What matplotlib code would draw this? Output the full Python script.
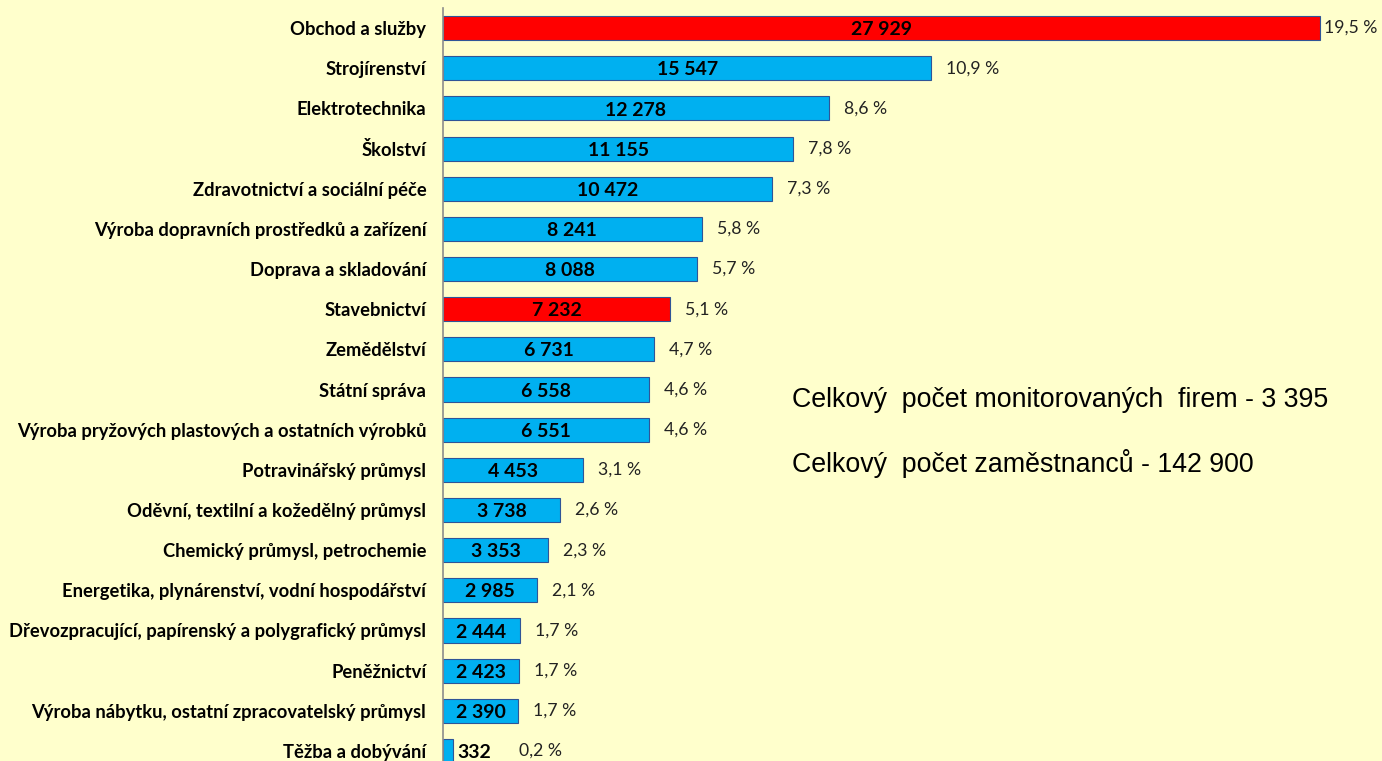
import matplotlib
matplotlib.use("Agg")
import matplotlib.pyplot as plt

categories = [
    "Obchod a služby",
    "Strojírenství",
    "Elektrotechnika",
    "Školství",
    "Zdravotnictví a sociální péče",
    "Výroba dopravních prostředků a zařízení",
    "Doprava a skladování",
    "Stavebnictví",
    "Zemědělství",
    "Státní správa",
    "Výroba pryžových plastových a ostatních výrobků",
    "Potravinářský průmysl",
    "Oděvní, textilní a kožedělný průmysl",
    "Chemický průmysl, petrochemie",
    "Energetika, plynárenství, vodní hospodářství",
    "Dřevozpracující, papírenský a polygrafický průmysl",
    "Peněžnictví",
    "Výroba nábytku, ostatní zpracovatelský průmysl",
    "Těžba a dobývání",
]
employees = [27929, 15547, 12278, 11155, 10472, 8241, 8088, 7232, 6731, 6558,
             6551, 4453, 3738, 3353, 2985, 2444, 2423, 2390, 332]
shares = [19.5, 10.9, 8.6, 7.8, 7.3, 5.8, 5.7, 5.1, 4.7, 4.6,
          4.6, 3.1, 2.6, 2.3, 2.1, 1.7, 1.7, 1.7, 0.2]
highlighted = ["Obchod a služby", "Stavebnictví"]
summary_lines = [
    "Celkový  počet monitorovaných  firem - 3 395",
    "Celkový  počet zaměstnanců - 142 900",
]

BG = "#FFFFCC"
W, H = 1382, 761
fig = plt.figure(figsize=(W / 100, H / 100), dpi=100, facecolor=BG)

ax_left = 443 / W
ax_bottom = 0.0
ax_top = 1 - 8 / H
ax = fig.add_axes([ax_left, ax_bottom, 1 - ax_left, ax_top - ax_bottom])
ax.set_facecolor(BG)

px_per_unit = (1320 - 443) / 27929
ax.set_xlim(0, (W - 443) / px_per_unit)
ax.set_ylim(18.25, -0.5)

ypos = list(range(len(categories)))
colors = ["#FF0000" if c in highlighted else "#00B0F0" for c in categories]
ax.barh(ypos, employees, height=0.6, color=colors, edgecolor="#2F5597",
        linewidth=0.8, zorder=2)

for sp in ["top", "right", "bottom"]:
    ax.spines[sp].set_visible(False)
ax.spines["left"].set_color("#8C8C8C")
ax.spines["left"].set_linewidth(1.2)
ax.set_xticks([])
ax.set_yticks(ypos)
ax.set_yticklabels(categories, fontsize=13.2, fontweight="bold", family="Lato")
ax.tick_params(axis="y", length=0, pad=12)

def fmt(v):
    return f"{v:,}".replace(",", " ")

for i, (v, s) in enumerate(zip(employees, shares)):
    if v > 2000:
        ax.text(v / 2, i + 0.04, fmt(v), ha="center", va="center",
                fontsize=14, fontweight="bold", family="Lato", color="black", zorder=3)
        off = 4 if i == 0 else 15
    else:
        ax.annotate(fmt(v), (v, i + 0.04), xytext=(4, 0), textcoords="offset pixels",
                    ha="left", va="center", fontsize=14, fontweight="bold",
                    family="Lato", color="black", zorder=3)
        off = 66
    ax.annotate(f"{s:.1f} %".replace(".", ","), (v, i), xytext=(off, 0),
                textcoords="offset pixels", ha="left", va="center",
                fontsize=12.7, family="Lato", color="#222222")

fig.text(792 / W, 1 - 400 / H, summary_lines[0], ha="left", va="center",
         fontsize=19.3, family="Liberation Sans", color="black")
fig.text(792 / W, 1 - 463 / H, summary_lines[1], ha="left", va="center",
         fontsize=19.3, family="Liberation Sans", color="black")

fig.savefig("out.png", dpi=100, facecolor=BG)
